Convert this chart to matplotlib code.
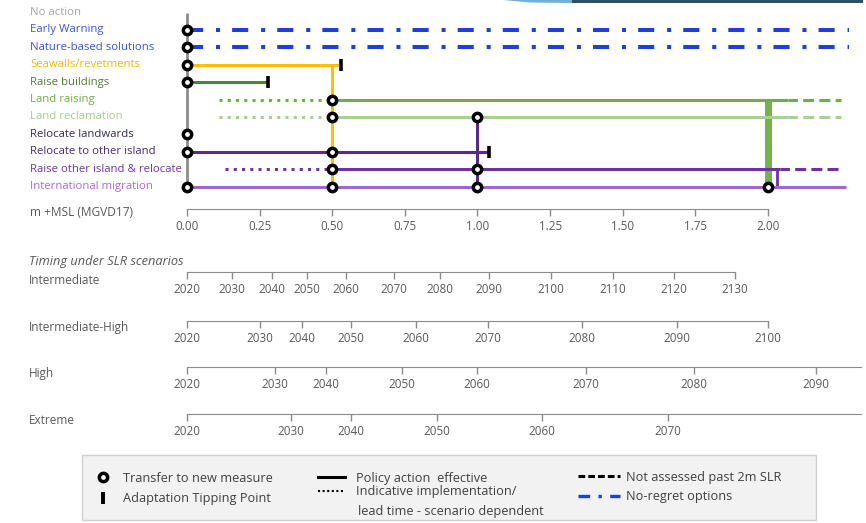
import matplotlib
matplotlib.use("Agg")
import matplotlib.pyplot as plt
from matplotlib.lines import Line2D
from matplotlib.patches import Rectangle, Polygon
from matplotlib.transforms import blended_transform_factory

plt.rcParams['font.family'] = ['Open Sans', 'DejaVu Sans']

# ------------------------------------------------------------------ data
options = ["No action", "Early Warning", "Nature-based solutions",
           "Seawalls/revetments", "Raise buildings", "Land raising",
           "Land reclamation", "Relocate landwards", "Relocate to other island",
           "Raise other island & relocate", "International migration"]
label_colors = ["#a6a6a6", "#3b55d6", "#3b55d6", "#f6b800", "#527c34",
                "#6fae45", "#a3cf86", "#3a2a4e", "#4a2a73", "#7433a8", "#a46ad8"]
line_colors = {"Early Warning": "#1f3fd8", "Nature-based solutions": "#1f3fd8",
               "Seawalls/revetments": "#ffc000", "Raise buildings": "#548235",
               "Land raising": "#70ad47", "Land reclamation": "#a9d18e",
               "Relocate to other island": "#5a2a88",
               "Raise other island & relocate": "#7030a0",
               "International migration": "#a066d3"}

# no-regret options (dash-dot), m SLR
noregret_opts = ["Early Warning", "Nature-based solutions"]
noregret_start = [0.0, 0.0]
noregret_end = [2.28, 2.28]

# policy action effective (solid)
effective_opts = ["Seawalls/revetments", "Raise buildings", "Land raising",
                  "Land reclamation", "Relocate to other island",
                  "Raise other island & relocate", "International migration"]
effective_start = [0.0, 0.0, 0.5, 0.5, 0.0, 0.5, 0.0]
effective_end = [0.53, 0.28, 2.07, 2.07, 1.04, 2.04, 2.27]

# indicative implementation / lead time (dotted)
leadtime_opts = ["Land raising", "Land reclamation", "Raise other island & relocate"]
leadtime_start = [0.11, 0.11, 0.13]
leadtime_end = [0.5, 0.5, 0.5]

# not assessed past 2 m SLR (dashed)
notassessed_opts = ["Land raising", "Land reclamation", "Raise other island & relocate"]
notassessed_start = [2.07, 2.07, 2.04]
notassessed_end = [2.25, 2.25, 2.25]

# transfer to new measure (circles)
transfer_opts = ["Early Warning", "Nature-based solutions", "Seawalls/revetments",
                 "Raise buildings", "Land raising", "Land reclamation",
                 "Land reclamation", "Relocate landwards", "Relocate to other island",
                 "Relocate to other island", "Raise other island & relocate",
                 "Raise other island & relocate", "International migration",
                 "International migration", "International migration",
                 "International migration"]
transfer_slr = [0.0, 0.0, 0.0, 0.0, 0.5, 0.5, 1.0, 0.0, 0.0, 0.5, 0.5, 1.0,
                0.0, 0.5, 1.0, 2.0]

# adaptation tipping points
tipping_opts = ["Seawalls/revetments", "Raise buildings", "Relocate to other island"]
tipping_slr = [0.53, 0.28, 1.04]

# vertical transfer connectors
conn_slr = [0.0, 0.5, 1.0, 2.0, 2.03]
conn_from = ["No action", "Seawalls/revetments", "Land reclamation",
             "Land raising", "Raise other island & relocate"]
conn_to = ["International migration", "International migration",
           "International migration", "International migration",
           "International migration"]
conn_colors = ["#8c8c8c", "#ffc000", "#5a2a88", "#74b24c", "#7030a0"]
conn_widths = [2.0, 2.2, 2.2, 5.0, 2.0]

slr_ticks = [0.0, 0.25, 0.5, 0.75, 1.0, 1.25, 1.5, 1.75, 2.0]

scenarios = ["Intermediate", "Intermediate-High", "High", "Extreme"]
intermediate_years = [2020, 2030, 2040, 2050, 2060, 2070, 2080, 2090, 2100, 2110, 2120, 2130]
intermediate_slr = [0.0, 0.155, 0.293, 0.413, 0.547, 0.713, 0.871, 1.04, 1.253, 1.466, 1.676, 1.886]
inthigh_years = [2020, 2030, 2040, 2050, 2060, 2070, 2080, 2090, 2100]
inthigh_slr = [0.0, 0.251, 0.396, 0.565, 0.788, 1.036, 1.36, 1.687, 2.0]
high_years = [2020, 2030, 2040, 2050, 2060, 2070, 2080, 2090]
high_slr = [0.0, 0.303, 0.478, 0.74, 0.998, 1.373, 1.745, 2.165]
extreme_years = [2020, 2030, 2040, 2050, 2060, 2070]
extreme_slr = [0.0, 0.358, 0.565, 0.861, 1.222, 1.656]
scen_years = [intermediate_years, inthigh_years, high_years, extreme_years]
scen_slr = [intermediate_slr, inthigh_slr, high_slr, extreme_slr]
scen_axis_end = [1.886, 2.0, 2.32, 2.32]

# ------------------------------------------------------------------ layout
W, H = 866, 523
PX0, PXM = 187.0, 290.5          # pixel of 0 m, pixels per metre
XL = (-PX0 / PXM, (W - PX0) / PXM)
ROW0, ROWSTEP = 12.5, 17.4
AX_BOTTOM = 209.0

fig = plt.figure(figsize=(W / 100, H / 100), dpi=100)
fig.patch.set_facecolor("white")

GRAY = "#8c8c8c"
TXT = "#595959"
FS = 8.2
TFS = 8.4

ax = fig.add_axes([0, 1 - AX_BOTTOM / H, 1, AX_BOTTOM / H])
ax.set_xlim(*XL)
ax.set_ylim((AX_BOTTOM - ROW0) / ROWSTEP, -ROW0 / ROWSTEP)
ax.patch.set_visible(False)
for s in ["left", "right", "top"]:
    ax.spines[s].set_visible(False)
ax.spines["bottom"].set_bounds(0, 2)
ax.spines["bottom"].set_color(GRAY)
ax.set_yticks([])
ax.set_xticks(slr_ticks)
ax.set_xticklabels([f"{v:.2f}" for v in slr_ticks])
ax.tick_params(axis="x", colors=GRAY, labelcolor=TXT, length=5, width=1,
               labelsize=TFS, pad=3)

row = {name: i for i, name in enumerate(options)}

# connectors
for x, a, b, c, w in zip(conn_slr, conn_from, conn_to, conn_colors, conn_widths):
    ax.plot([x, x], [row[a], row[b]], color=c, lw=w, solid_capstyle="butt", zorder=2)

# lead time (dotted)
for o, s, e in zip(leadtime_opts, leadtime_start, leadtime_end):
    ax.plot([s, e], [row[o], row[o]], color=line_colors[o], lw=2.2,
            ls=(0, (1, 1.7)), zorder=3)
# not assessed (dashed)
for o, s, e in zip(notassessed_opts, notassessed_start, notassessed_end):
    ax.plot([s, e], [row[o], row[o]], color=line_colors[o], lw=2.2,
            ls=(0.5, (3.6, 1.7)), zorder=3)
# effective (solid)
for o, s, e in zip(effective_opts, effective_start, effective_end):
    ax.plot([s, e], [row[o], row[o]], color=line_colors[o], lw=2.2,
            solid_capstyle="butt", zorder=3)
# no-regret (dash-dot)
for o, s, e in zip(noregret_opts, noregret_start, noregret_end):
    ax.plot([s, e], [row[o], row[o]], color=line_colors[o], lw=2.9,
            ls=(0, (4, 3.2, 1, 3)), zorder=3)
# tipping points
ax.plot(tipping_slr, [row[o] for o in tipping_opts], ls="none", marker="|",
        ms=8, mew=2.6, color="black", zorder=5)
# transfers
ax.plot(transfer_slr, [row[o] for o in transfer_opts], ls="none", marker="o",
        ms=6, mew=2.5, mfc="white", mec="black", zorder=6)

# row labels
tr = blended_transform_factory(fig.transFigure, ax.transData)
for i, (name, c) in enumerate(zip(options, label_colors)):
    ax.text(30 / W, i, name, transform=tr, color=c, fontsize=FS,
            va="center", ha="left")

fig.text(30 / W, 1 - 213 / H, "m +MSL (MGVD17)", color=TXT, fontsize=8.6,
         va="center", ha="left")
fig.text(29 / W, 1 - 261 / H, "Timing under SLR scenarios", color=TXT,
         fontsize=9.2, style="italic", va="center", ha="left")

# scenario timing axes
line_px = [272, 321, 367, 414]
label_px = [280, 327, 373, 421]
for name, yrs, slr, end, lp, tp in zip(scenarios, scen_years, scen_slr,
                                       scen_axis_end, line_px, label_px):
    a = fig.add_axes([0, 1 - lp / H, 1, 1.0 / H])
    a.set_xlim(*XL)
    a.patch.set_visible(False)
    for s in ["left", "right", "top"]:
        a.spines[s].set_visible(False)
    a.spines["bottom"].set_bounds(0, end)
    a.spines["bottom"].set_color(GRAY)
    a.set_yticks([])
    a.set_xticks(slr)
    a.set_xticklabels([str(y) for y in yrs])
    a.tick_params(axis="x", colors=GRAY, labelcolor=TXT, length=5, width=1,
                  labelsize=TFS, pad=3)
    fig.text(29 / W, 1 - tp / H, name, color=TXT, fontsize=8.5,
             va="center", ha="left")

# decorative slide header swoosh (top right)
fig.add_artist(Polygon([(570 / W, 1.0), (863 / W, 1.0), (863 / W, 1 - 3 / H),
                        (570 / W, 1 - 3 / H)], closed=True, transform=fig.transFigure,
                       facecolor="#2c5263", edgecolor="none"))
fig.add_artist(Polygon([(503 / W, 1.0), (572 / W, 1.0), (572 / W, 1 - 3 / H),
                        (530 / W, 1 - 2.5 / H)], closed=True, transform=fig.transFigure,
                       facecolor="#6fb0dc", edgecolor="none"))

# ------------------------------------------------------------------ legend
fig.add_artist(Rectangle((82 / W, 1 - 520 / H), (816 - 82) / W, 65 / H,
                         transform=fig.transFigure, facecolor="#f2f2f2",
                         edgecolor="#d0d0d0", lw=1))
LFS = 9.2
LTXT = "#404040"
h1 = [Line2D([], [], ls="none", marker="o", ms=6, mew=2.5, mfc="white", mec="black"),
      Line2D([], [], ls="none", marker="|", ms=8, mew=2.8, color="black")]
l1 = ["Transfer to new measure", "Adaptation Tipping Point"]
fig.legend(h1, l1, loc="center left", bbox_to_anchor=(97 / W, 1 - 488.5 / H),
           frameon=False, fontsize=LFS, handlelength=1.0, handletextpad=1.0,
           labelspacing=0.58, borderpad=0, borderaxespad=0, labelcolor=LTXT)
h2 = [Line2D([], [], color="black", lw=2.2),
      Line2D([], [], color="black", lw=1.5, ls=(0, (1, 1.2)))]
l2 = ["Policy action  effective", "Indicative implementation/"]
fig.legend(h2, l2, loc="center left", bbox_to_anchor=(318 / W, 1 - 485 / H),
           frameon=False, fontsize=LFS, handlelength=2.1, handletextpad=0.9,
           labelspacing=0.05, borderpad=0, borderaxespad=0, labelcolor=LTXT)
fig.text(358 / W, 1 - 511.5 / H, "lead time - scenario dependent", color=LTXT,
         fontsize=LFS, va="center", ha="left")
h3 = [Line2D([], [], color="black", lw=2.2, ls=(0, (2.2, 1.0))),
      Line2D([], [], color="#1f3fd8", lw=2.4, ls=(0, (3.5, 2.5, 1, 2.5)))]
l3 = ["Not assessed past 2m SLR", "No-regret options"]
fig.legend(h3, l3, loc="center left", bbox_to_anchor=(578 / W, 1 - 487 / H),
           frameon=False, fontsize=LFS, handlelength=3.3, handletextpad=0.45,
           labelspacing=0.52, borderpad=0, borderaxespad=0, labelcolor=LTXT)

fig.savefig("out.png", dpi=100)
